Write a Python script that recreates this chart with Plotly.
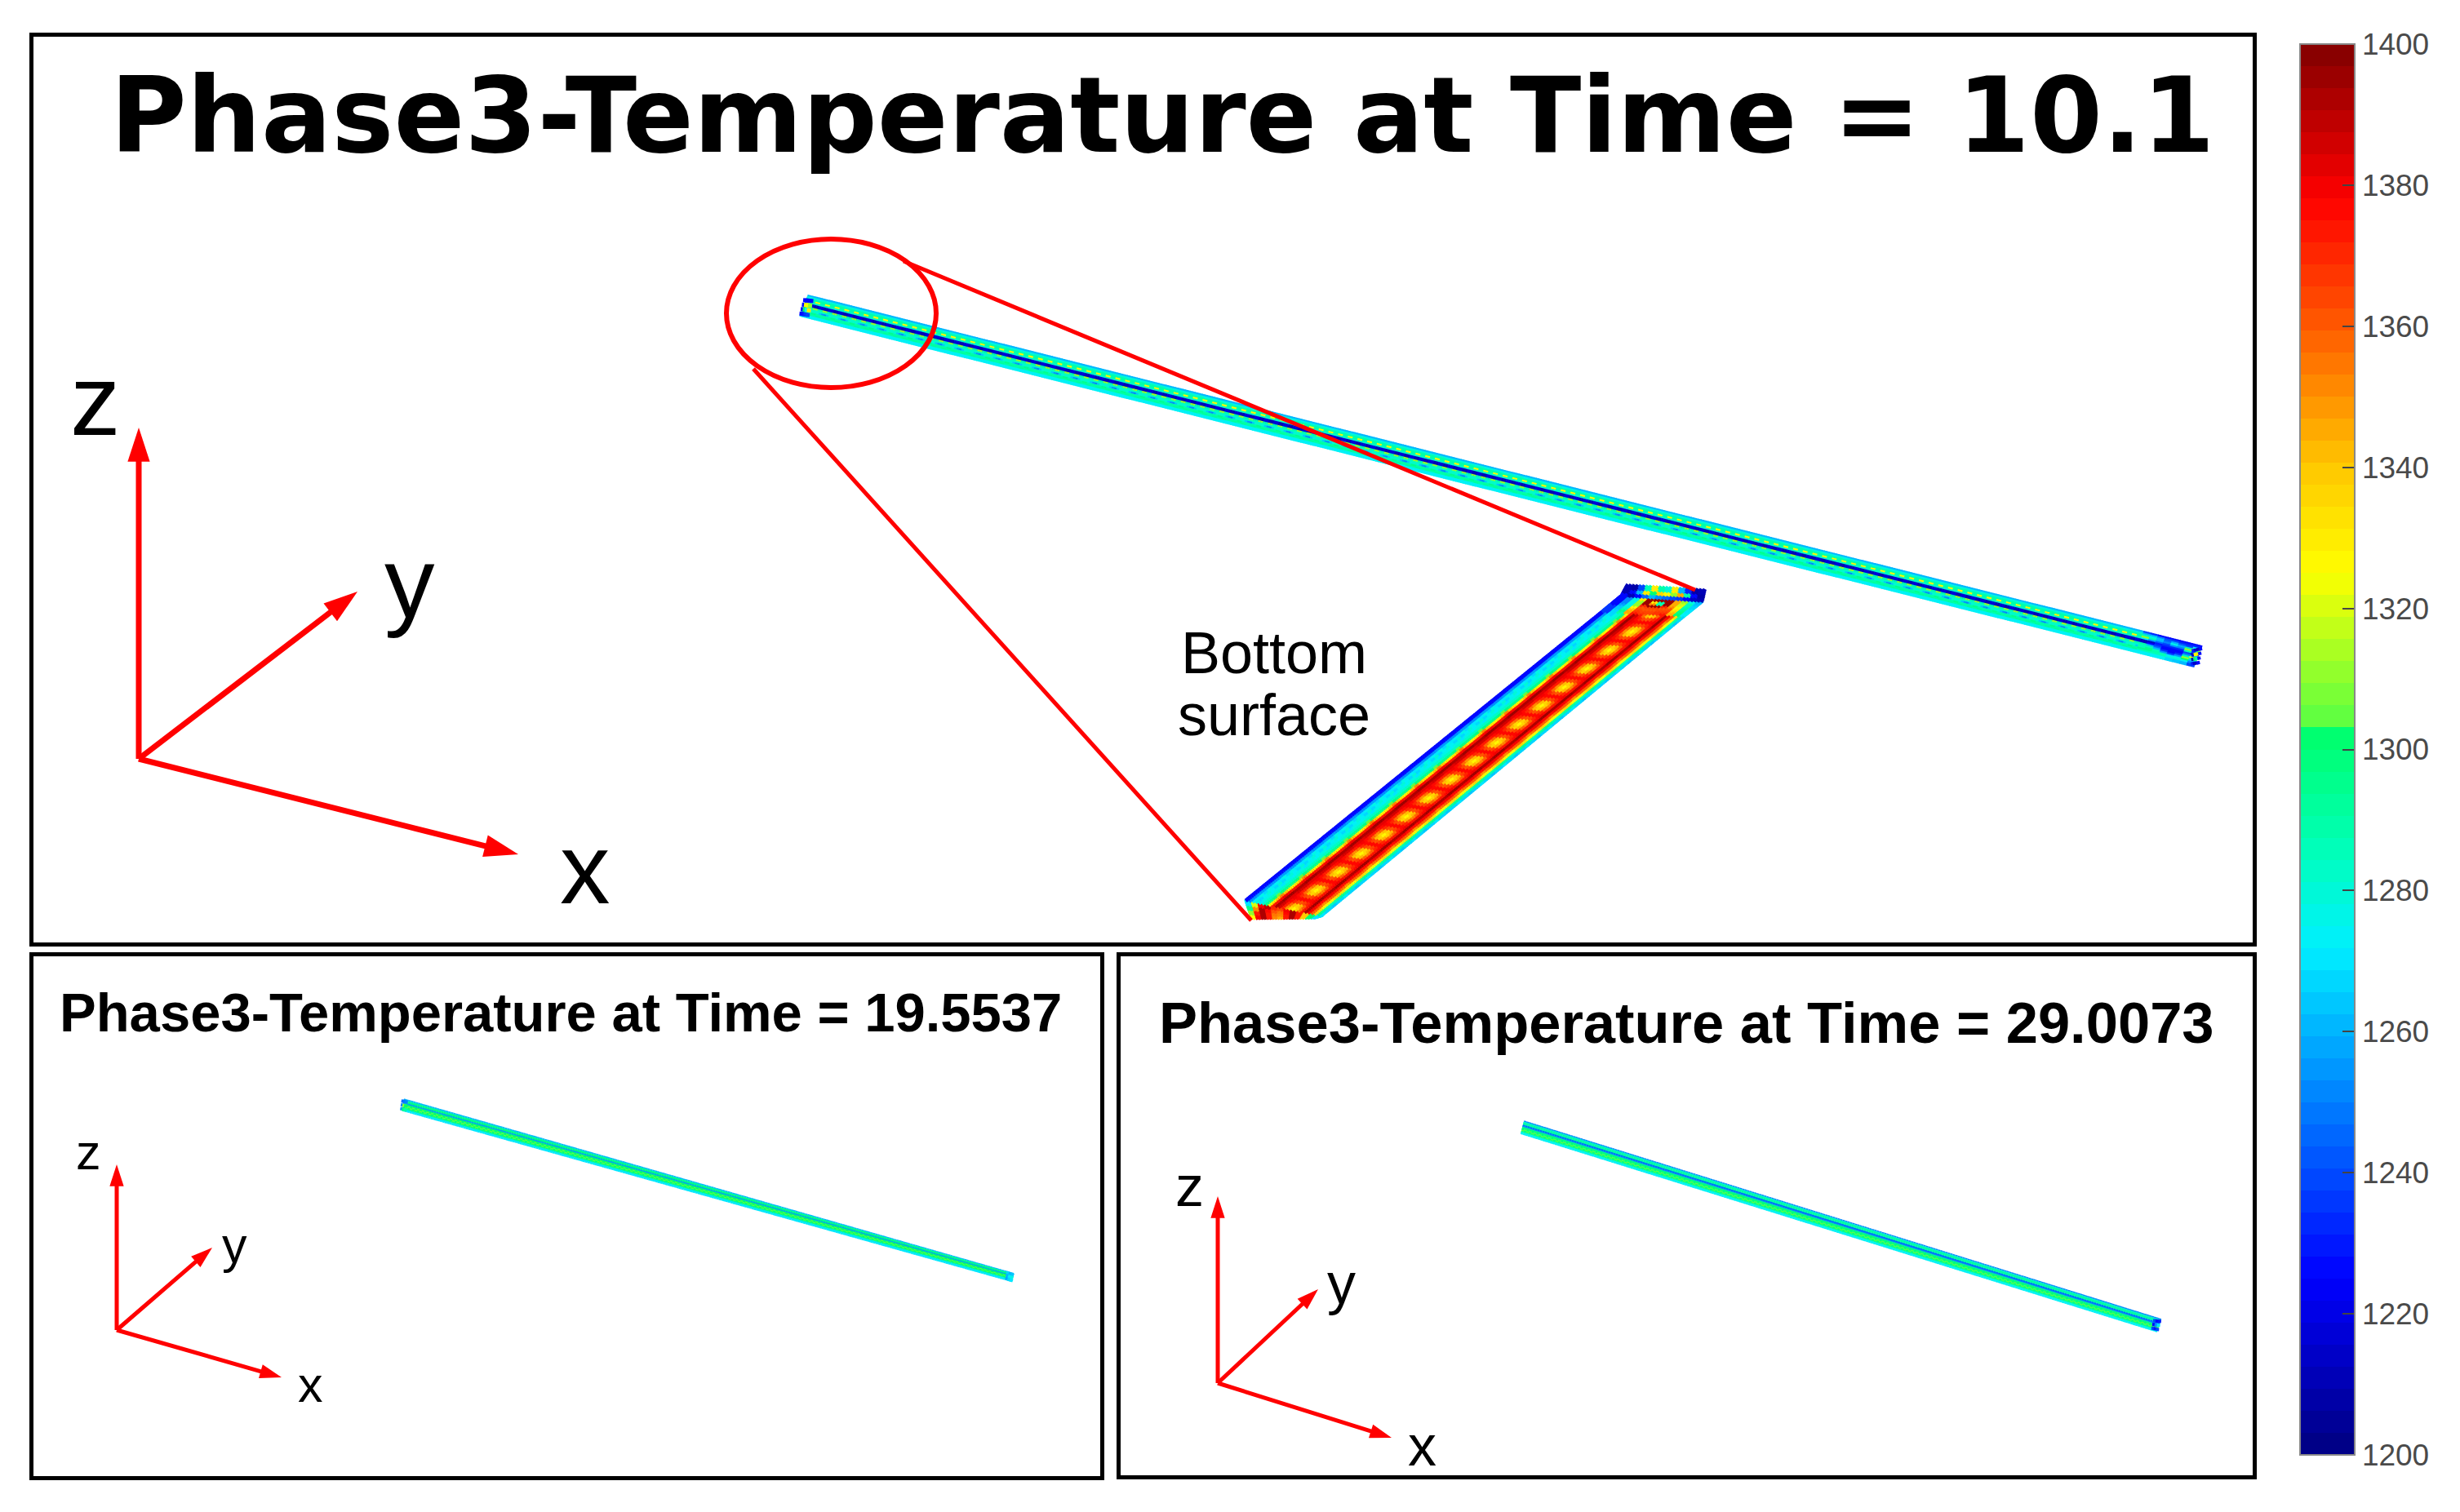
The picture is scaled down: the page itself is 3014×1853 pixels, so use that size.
#!/usr/bin/env python3
# -*- coding: utf-8 -*-
"""Phase3 temperature on the bar at three time steps, drawn with plotly."""
import math

import plotly.graph_objs as go

# page size, the panels are placed on it in pixels
PAGE_W = 3014
PAGE_H = 1853

TITLES = ["Phase3-Temperature at Time = 10.1",
          "Phase3-Temperature at Time = 19.5537",
          "Phase3-Temperature at Time = 29.0073"]
BOTTOM_LABEL = ["Bottom", "surface"]

CBAR_TICKS = [1200, 1220, 1240, 1260, 1280, 1300, 1320, 1340, 1360, 1380, 1400]

# colour map: temperature and rgb
CMAP_TEMPS = [1200, 1225, 1272, 1285, 1302, 1303, 1325, 1340, 1360, 1378, 1400]
CMAP_RGB = [(0, 0, 128), (0, 0, 255), (0, 240, 255), (0, 255, 190),
            (0, 255, 110), (85, 255, 70), (255, 255, 0), (255, 200, 0),
            (255, 90, 0), (255, 0, 0), (128, 0, 0)]
CMAP_LEVELS = 64

# long bar at time 10.1, temperatures across the bar (upper edge to lower edge)
LONG_BAR_TILE = [
    [1262, 1278, 1288, 1325, 1282, 1212, 1212, 1312, 1282, 1256, 1288, 1290, 1274],
    [1262, 1278, 1288, 1325, 1282, 1212, 1212, 1312, 1282, 1252, 1288, 1290, 1274],
    [1262, 1280, 1290, 1290, 1282, 1216, 1216, 1288, 1282, 1264, 1288, 1292, 1274],
    [1262, 1280, 1290, 1290, 1282, 1216, 1216, 1288, 1282, 1280, 1290, 1292, 1274],
    [1262, 1278, 1288, 1325, 1282, 1212, 1212, 1312, 1282, 1284, 1295, 1290, 1274],
    [1262, 1278, 1288, 1325, 1282, 1212, 1212, 1312, 1282, 1284, 1295, 1290, 1274],
    [1262, 1280, 1290, 1290, 1282, 1216, 1216, 1288, 1282, 1280, 1290, 1292, 1274],
    [1262, 1280, 1290, 1290, 1282, 1216, 1216, 1288, 1282, 1264, 1288, 1292, 1274],
]
LONG_BAR_END = [
    [1240, 1262, 1285, 1310, 1272, 1212, 1214, 1290, 1285, 1285, 1295, 1285, 1272],
    [1232, 1260, 1278, 1285, 1255, 1215, 1225, 1260, 1285, 1295, 1295, 1285, 1272],
    [1228, 1252, 1265, 1262, 1245, 1230, 1235, 1245, 1262, 1285, 1290, 1285, 1272],
    [1228, 1240, 1245, 1250, 1240, 1232, 1228, 1228, 1235, 1255, 1285, 1285, 1272],
    [1228, 1240, 1262, 1278, 1255, 1232, 1225, 1225, 1228, 1240, 1270, 1280, 1268],
    [1228, 1232, 1245, 1262, 1250, 1232, 1225, 1225, 1235, 1255, 1275, 1280, 1265],
    [1228, 1232, 1240, 1285, 1310, 1285, 1240, 1250, 1285, 1310, 1300, 1272, 1260],
    [1225, 1232, 1270, 1325, 1290, 1240, 1215, 1260, 1322, 1285, 1260, 1250, 1240],
]
LONG_BAR_FACE_LEFT = [
    [1225, 1225, 1225, 1225],
    [1225, 1325, 1300, 1230],
    [1225, 1322, 1272, 1235],
    [1225, 1310, 1330, 1240],
]
LONG_BAR_FACE_RIGHT = [
    [1230, 1215, 1210, 1230],
    [1215, 1325, 1300, 1215],
    [1215, 1330, 1285, 1215],
    [1225, 1225, 1225, 1225],
]

# enlarged bottom surface, across the bar (left edge to right edge)
BOTTOM_TILE = [
    [1225, 1252, 1274, 1280, 1270, 1282, 1295, 1325, 1372, 1392, 1385, 1372,
     1352, 1336, 1328, 1336, 1352, 1372, 1392, 1380, 1362, 1335, 1295, 1270],
    [1225, 1250, 1270, 1268, 1278, 1282, 1296, 1330, 1374, 1392, 1385, 1374,
     1358, 1342, 1336, 1342, 1358, 1374, 1392, 1380, 1360, 1332, 1292, 1268],
    [1225, 1254, 1278, 1272, 1276, 1284, 1298, 1340, 1378, 1394, 1384, 1378,
     1370, 1364, 1362, 1364, 1370, 1378, 1394, 1378, 1358, 1328, 1290, 1266],
    [1225, 1254, 1268, 1280, 1272, 1284, 1305, 1350, 1380, 1396, 1382, 1380,
     1378, 1376, 1376, 1376, 1378, 1380, 1396, 1376, 1352, 1322, 1285, 1265],
    [1225, 1254, 1278, 1272, 1276, 1284, 1298, 1340, 1378, 1394, 1384, 1378,
     1370, 1364, 1362, 1364, 1370, 1378, 1394, 1378, 1358, 1328, 1290, 1266],
    [1225, 1250, 1270, 1268, 1278, 1282, 1296, 1330, 1374, 1392, 1385, 1374,
     1358, 1342, 1336, 1342, 1358, 1374, 1392, 1380, 1360, 1332, 1292, 1268],
]
BOTTOM_TIP = [
    [1325, 1380, 1392, 1372, 1350, 1345, 1372, 1392, 1372, 1340, 1300, 1270],
    [1310, 1372, 1392, 1372, 1355, 1350, 1372, 1392, 1372, 1340, 1300, 1270],
    [1295, 1350, 1392, 1378, 1360, 1355, 1378, 1392, 1372, 1340, 1300, 1270],
    [1270, 1320, 1380, 1390, 1370, 1365, 1380, 1392, 1372, 1340, 1300, 1270],
]
BOTTOM_END = [
    [1235, 1268, 1290, 1345, 1372, 1368, 1365, 1368, 1372, 1345, 1300, 1272],
    [1235, 1268, 1295, 1345, 1368, 1365, 1365, 1368, 1368, 1342, 1298, 1272],
    [1235, 1265, 1285, 1340, 1365, 1362, 1362, 1365, 1365, 1335, 1295, 1270],
    [1235, 1265, 1280, 1325, 1362, 1365, 1365, 1362, 1360, 1330, 1292, 1270],
    [1225, 1258, 1275, 1310, 1370, 1395, 1395, 1370, 1350, 1325, 1288, 1268],
    [1225, 1250, 1275, 1310, 1395, 1350, 1290, 1395, 1345, 1320, 1285, 1268],
    [1225, 1250, 1275, 1310, 1395, 1330, 1285, 1395, 1345, 1318, 1285, 1265],
    [1225, 1250, 1275, 1330, 1395, 1395, 1395, 1395, 1345, 1312, 1275, 1260],
]
BOTTOM_CAP = [
    [1225, 1212, 1225, 1245, 1260, 1250, 1245, 1240, 1235, 1228, 1215, 1212],
    [1210, 1225, 1260, 1330, 1300, 1335, 1325, 1310, 1345, 1290, 1225, 1208],
    [1212, 1208, 1240, 1285, 1330, 1290, 1280, 1330, 1260, 1232, 1208, 1212],
]

# bars at the two later times, across the bar (upper edge to lower edge)
SECOND_BAR_TILE = [
    [1262, 1292, 1298, 1255, 1303, 1304, 1303, 1298, 1270],
    [1262, 1292, 1298, 1255, 1303, 1303, 1304, 1298, 1270],
]
SECOND_BAR_FACE = [[1245, 1250, 1255], [1248, 1310, 1298], [1250, 1300, 1290]]
SECOND_BAR_FACE_END = [[1268, 1262, 1258], [1262, 1272, 1268], [1265, 1275, 1270]]
THIRD_BAR_TILE = [
    [1252, 1282, 1292, 1288, 1245, 1250, 1296, 1302, 1299, 1306, 1296, 1272],
    [1252, 1282, 1292, 1288, 1245, 1250, 1296, 1299, 1304, 1298, 1296, 1272],
]
THIRD_BAR_FACE = [[1240, 1225, 1240], [1225, 1250, 1230], [1230, 1270, 1240]]


def cmap_color(temp):
    """Colour of the measured map at one temperature."""
    for i in range(len(CMAP_TEMPS) - 1):
        if temp <= CMAP_TEMPS[i + 1]:
            frac = (temp - CMAP_TEMPS[i]) / (CMAP_TEMPS[i + 1] - CMAP_TEMPS[i])
            rgb = [CMAP_RGB[i][k] + frac * (CMAP_RGB[i + 1][k] - CMAP_RGB[i][k])
                   for k in range(3)]
            return "rgb(%d,%d,%d)" % tuple(rgb)
    return "rgb(%d,%d,%d)" % CMAP_RGB[-1]


def stepped_colorscale():
    """Colour scale with the flat steps seen in the colour bar."""
    scale = []
    span = CMAP_TEMPS[-1] - CMAP_TEMPS[0]
    for lev in range(CMAP_LEVELS):
        col = cmap_color(CMAP_TEMPS[0] + span * (lev + 0.5) / CMAP_LEVELS)
        scale.append([lev / CMAP_LEVELS, col])
        scale.append([(lev + 1) / CMAP_LEVELS, col])
    return scale


def strip(rows, corner_a, corner_b, corner_c, corner_d, size, axis):
    """Marker grid of temperatures between four corners of a bar section.

    a-b is the start edge across the bar, c-d the end edge.
    """
    xs, ys, temps = [], [], []
    n_rows = len(rows)
    for i, row in enumerate(rows):
        t = (i + 0.5) / n_rows
        n_cols = len(row)
        for j, val in enumerate(row):
            v = (j + 0.5) / n_cols
            x_a = corner_a[0] + t * (corner_c[0] - corner_a[0])
            y_a = corner_a[1] + t * (corner_c[1] - corner_a[1])
            x_b = corner_b[0] + t * (corner_d[0] - corner_b[0])
            y_b = corner_b[1] + t * (corner_d[1] - corner_b[1])
            xs.append(x_a + v * (x_b - x_a))
            ys.append(y_a + v * (y_b - y_a))
            temps.append(val)
    angle = math.degrees(math.atan2(corner_c[1] - corner_a[1],
                                    corner_c[0] - corner_a[0]))
    return go.Scatter(x=xs, y=ys, mode="markers", xaxis="x" + axis,
                      yaxis="y" + axis, hoverinfo="skip", showlegend=False,
                      marker=dict(color=temps, coloraxis="coloraxis",
                                  symbol="square", size=size, angle=angle,
                                  line=dict(width=0)))


def doubled(rows, times):
    """Repeat every row so that the markers of a section overlap."""
    out = []
    for row in rows:
        out.extend([row] * times)
    return out


def widened(rows, times):
    """Repeat every column of a block."""
    return [[val for val in row for _ in range(times)] for row in rows]


def triad_arrow(tail, tip, axis, width, head):
    """Red axis arrow of a triad, the head is an oriented marker."""
    return go.Scatter(x=[tail[0], tip[0]], y=[tail[1], tip[1]],
                      mode="lines+markers", xaxis="x" + axis, yaxis="y" + axis,
                      line=dict(color="#ff0000", width=width),
                      marker=dict(symbol=["circle", "arrow"], size=[0, head],
                                  color="#ff0000", opacity=1,
                                  angleref="previous", line=dict(width=0)),
                      hoverinfo="skip", showlegend=False)


traces = []

# top panel, long bar with its two end faces
traces.append(strip(LONG_BAR_TILE * 69 + doubled(LONG_BAR_END, 3),
                    (990, 362), (980, 387), (2698, 792), (2688, 817), 4, ""))
traces.append(strip(LONG_BAR_FACE_LEFT, (986, 365), (980, 387), (996, 366),
                    (990, 389), 5, ""))
traces.append(strip(LONG_BAR_FACE_RIGHT, (2686, 795), (2685, 816), (2698, 792),
                    (2694, 815), 4, ""))

# top panel, enlarged bottom surface
traces.append(strip(doubled(widened(BOTTOM_TIP, 2), 2),
                    (1533, 1126), (1612, 1124), (1525, 1103), (1621, 1122), 5, ""))
traces.append(strip(doubled(BOTTOM_TILE, 2) * 16,
                    (1525, 1103), (1621, 1122), (1962, 749), (2066, 754), 5, ""))
traces.append(strip(doubled(widened(BOTTOM_END, 2), 2),
                    (1962, 749), (2066, 754), (1985, 730), (2087, 737), 5, ""))
traces.append(strip(doubled(widened(BOTTOM_CAP, 2), 2),
                    (1985, 730), (2087, 737), (1992, 717), (2090, 723), 5, ""))

# lower panels
traces.append(strip(SECOND_BAR_TILE * 130, (495, 1347), (493, 1361),
                    (1242, 1561), (1239, 1570), 3, "2"))
traces.append(strip(SECOND_BAR_FACE, (493, 1347), (491, 1361), (499, 1348),
                    (497, 1363), 4, "2"))
traces.append(strip(SECOND_BAR_FACE_END, (1234, 1558), (1232, 1568), (1242, 1561),
                    (1240, 1571), 4, "2"))
traces.append(strip(THIRD_BAR_TILE * 130, (1867, 1374), (1863, 1389),
                    (2648, 1617), (2643, 1632), 3, "3"))
traces.append(strip(THIRD_BAR_FACE, (2639, 1616), (2636, 1630), (2648, 1617),
                    (2644, 1632), 4, "3"))

# call-out lines from the circle to the enlarged bottom surface
traces.append(go.Scatter(x=[1107, 2077], y=[320, 723], mode="lines",
                         line=dict(color="#ff0000", width=5),
                         hoverinfo="skip", showlegend=False))
traces.append(go.Scatter(x=[923, 1533], y=[452, 1128], mode="lines",
                         line=dict(color="#ff0000", width=5),
                         hoverinfo="skip", showlegend=False))

# axis triads
for tip in [(170, 524), (438, 725), (635, 1047)]:
    traces.append(triad_arrow((170, 930), tip, "", 7, 44))
for tip in [(143, 1427), (260, 1529), (345, 1688)]:
    traces.append(triad_arrow((143, 1630), tip, "2", 5, 28))
for tip in [(1492, 1466), (1615, 1580), (1705, 1762)]:
    traces.append(triad_arrow((1492, 1695), tip, "3", 5, 28))

fig = go.Figure(data=traces)

# every panel axis runs in page pixels so the drawing keeps its shape
panels = [("", 41, 2760, 45, 1155),
          ("2", 41, 1348, 1172, 1809),
          ("3", 1373, 2760, 1172, 1808)]
layout_axes = {}
for name, x0, x1, y0, y1 in panels:
    frame = dict(showline=True, mirror=True, linecolor="black", linewidth=5,
                 showgrid=False, zeroline=False, ticks="", showticklabels=False)
    layout_axes["xaxis" + name] = dict(
        frame, domain=[x0 / PAGE_W, x1 / PAGE_W], range=[x0, x1],
        anchor="y" + name)
    layout_axes["yaxis" + name] = dict(
        frame, domain=[1 - y1 / PAGE_H, 1 - y0 / PAGE_H], range=[y1, y0],
        anchor="x" + name)

annotations = []


def add_text(text, x, y, size, axis="", weight="normal",
             family="Liberation Sans"):
    annotations.append(dict(text=text, x=x, y=y, xref="x" + axis,
                            yref="y" + axis, showarrow=False, xanchor="center",
                            yanchor="middle",
                            font=dict(family=family, size=size,
                                      color="black", weight=weight)))


add_text(TITLES[0], 1424, 142, 128, "", "bold", "DejaVu Sans")
add_text(TITLES[1], 687, 1240, 67, "2", "bold")
add_text(TITLES[2], 2066, 1253, 70.5, "3", "bold")
add_text(BOTTOM_LABEL[0], 1561, 800, 72)
add_text(BOTTOM_LABEL[1], 1561, 876, 72)

add_text("z", 117, 490, 123)
add_text("y", 502, 714, 123)
add_text("x", 717, 1064, 123)

add_text("z", 108, 1412, 61, "2")
add_text("y", 287, 1526, 61, "2")
add_text("x", 380, 1697, 61, "2")

add_text("z", 1457, 1454, 70, "3")
add_text("y", 1643, 1573, 70, "3")
add_text("x", 1742, 1772, 70, "3")

fig.update_layout(
    width=PAGE_W,
    height=PAGE_H,
    margin=dict(l=0, r=0, t=0, b=0),
    paper_bgcolor="white",
    plot_bgcolor="white",
    showlegend=False,
    annotations=annotations,
    shapes=[dict(type="circle", xref="x", yref="y", x0=890, x1=1147, y0=293,
                 y1=475, line=dict(color="#ff0000", width=6))],
    coloraxis=dict(
        cmin=1200, cmax=1400, colorscale=stepped_colorscale(),
        colorbar=dict(
            x=2818 / PAGE_W, xanchor="left", xpad=0, ypad=0,
            y=1 - 54 / PAGE_H, yanchor="top", len=1729 / PAGE_H,
            lenmode="fraction", thickness=67, thicknessmode="pixels",
            tickmode="array", tickvals=CBAR_TICKS, ticks="inside",
            ticklen=16, tickwidth=2, tickcolor="#444444", tickprefix="\u2009",
            tickfont=dict(family="Liberation Sans", size=37, color="#4a4a4a"),
            outlinecolor="#888888", outlinewidth=2, title=None)),
    **layout_axes)

fig.write_html("out.html", config=dict(displayModeBar=False),
               post_script="document.body.style.margin='0';")
